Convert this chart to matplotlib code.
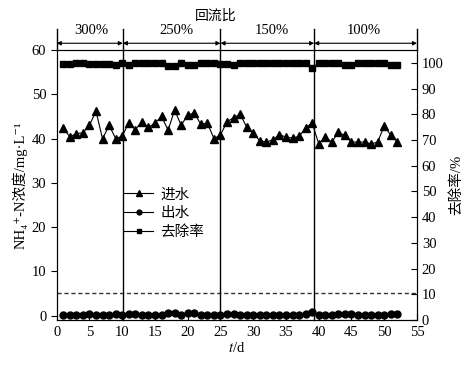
import numpy as np
import matplotlib
matplotlib.use('Agg')
import matplotlib.pyplot as plt
from matplotlib.transforms import blended_transform_factory

plt.rcParams['font.family'] = ['Liberation Serif', 'DejaVu Serif', 'Noto Sans CJK SC']
plt.rcParams['mathtext.fontset'] = 'stix'
plt.rcParams['font.size'] = 10.5

# 数据
days = np.arange(1, 53)
influent = [42.3, 40.4, 41.1, 41.3, 43.0, 46.2, 39.9, 43.0, 40.0, 40.5,
            43.6, 42.0, 43.8, 42.5, 43.5, 45.0, 41.9, 46.4, 43.0, 45.3,
            45.8, 43.2, 43.5, 40.0, 40.8, 43.8, 44.7, 45.5, 42.6, 41.2,
            39.5, 39.2, 39.7, 40.9, 40.3, 40.1, 40.5, 42.4, 43.5, 38.8,
            40.3, 39.2, 41.4, 40.7, 39.2, 39.2, 39.2, 38.8, 39.2, 42.9,
            40.7, 39.2]
effluent = [0.2, 0.15, 0.15, 0.15, 0.25, 0.2, 0.2, 0.2, 0.35, 0.2,
            0.45, 0.25, 0.2, 0.2, 0.15, 0.2, 0.65, 0.6, 0.2, 0.5,
            0.5, 0.2, 0.2, 0.2, 0.2, 0.3, 0.4, 0.2, 0.2, 0.2,
            0.2, 0.2, 0.2, 0.2, 0.2, 0.2, 0.2, 0.25, 0.8, 0.2,
            0.2, 0.2, 0.25, 0.35, 0.3, 0.2, 0.2, 0.2, 0.2, 0.2,
            0.4, 0.4]
removal = [99.5, 99.5, 99.9, 99.9, 99.5, 99.7, 99.7, 99.7, 99.3, 99.9,
           99.3, 99.9, 99.9, 99.9, 99.9, 99.9, 98.9, 98.9, 99.9, 99.0,
           99.0, 99.9, 99.9, 99.9, 99.7, 99.7, 99.3, 99.9, 99.9, 99.9,
           99.9, 99.9, 99.9, 99.9, 99.9, 99.9, 99.9, 99.9, 98.1, 99.9,
           99.9, 99.9, 99.9, 99.3, 99.3, 99.9, 99.9, 99.9, 99.9, 99.9,
           99.3, 99.3]

# 回流比分段
bounds = [0, 10.1, 25, 39.3, 55]
ratio_labels = ['300%', '250%', '150%', '100%']
label_x = [5.3, 18.3, 32.8, 46.9]
limit = 5

fig = plt.figure(figsize=(4.73, 3.67), dpi=100)
ax = fig.add_axes([56.7 / 473, 47 / 367, 360.3 / 473, 270 / 367])
ax2 = ax.twinx()

l1, = ax.plot(days, influent, color='k', lw=0.8, marker='^', ms=6, label='进水')
l2, = ax.plot(days, effluent, color='k', lw=0.8, marker='o', ms=5, label='出水')
l3, = ax2.plot(days, removal, color='k', lw=0.8, marker='s', ms=4.8, label='去除率')

ax.axhline(limit, color='#333333', lw=1, ls=(0, (3, 2)))

ax.set_xlim(0, 55)
ax.set_ylim(-1, 60)
ax2.set_ylim(0, 105)
ax.set_xticks(np.arange(0, 56, 5))
ax.set_yticks(np.arange(0, 61, 10))
ax2.set_yticks(np.arange(0, 101, 10))
ax.tick_params(axis='x', direction='in', length=4, pad=4)
ax.tick_params(axis='y', direction='out', length=4)
ax2.tick_params(axis='y', direction='in', length=4)

ax.set_xlabel('$t$/d', labelpad=2)
ax.set_ylabel('NH₄⁺-N浓度/mg·L⁻¹', labelpad=3)
ax2.set_ylabel('去除率/%', labelpad=4)

# 分段竖线及上方标注
trans = blended_transform_factory(ax.transData, ax.transAxes)
top = 1.078
for b in bounds:
    ax.plot([b, b], [0 if 0 < b < 55 else 1, top], color='k', lw=1,
            transform=trans, clip_on=False)
for i in range(len(ratio_labels)):
    ax.annotate('', xy=(bounds[i], 1.025), xytext=(bounds[i + 1], 1.025),
                xycoords=trans, textcoords=trans,
                arrowprops=dict(arrowstyle='<|-|>', color='k', lw=0.8,
                                mutation_scale=6, shrinkA=0, shrinkB=0))
    ax.text(label_x[i], 1.05, ratio_labels[i], transform=trans,
            ha='center', va='bottom', fontsize=10.5)
ax.text(0.44, 1.125, '回流比', transform=ax.transAxes, ha='center',
        va='center', fontsize=10)

leg = ax.legend(handles=[l1, l2, l3], loc='upper left',
                bbox_to_anchor=(117 / 473, 1 - 181 / 367),
                bbox_transform=fig.transFigure, frameon=False,
                borderpad=0, handlelength=2.0, handletextpad=0.45,
                labelspacing=0.35, markerscale=0.7, fontsize=10.5)

fig.savefig('out.png', dpi=100)
